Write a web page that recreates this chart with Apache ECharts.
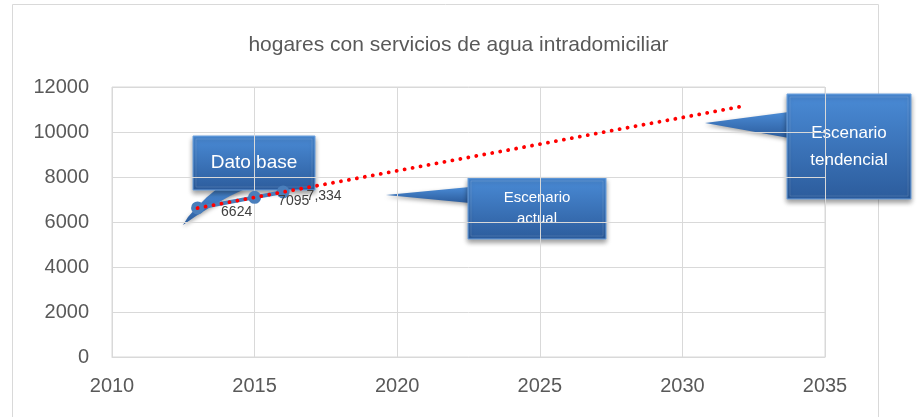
<!DOCTYPE html>
<html>
<head>
<meta charset="utf-8">
<script src="https://cdn.jsdelivr.net/npm/echarts@6/dist/echarts.min.js"></script>
<style>
  html, body { margin: 0; padding: 0; background: #fff; }
  #main { width: 917px; height: 417px; }
</style>
</head>
<body>
<div id="main"></div>
<script>
// datos
const years = [2013, 2015, 2016];
const hogares = [6624, 7095, 7334];
const etiquetas = ['6624', '7095', '7,334'];
// linea de tendencia (extremos)
const trendYears = [2013, 2032];
const trendValues = [6620, 11120];

const font = 'Liberation Sans';

// callout con cola
function callout(x, y, w, h, tail, lines, fontSize, lineGap) {
  const fill = new echarts.graphic.LinearGradient(0, 0, 0, 1, [
    { offset: 0, color: '#4a8bd6' },
    { offset: 1, color: '#2c5c9c' }
  ]);
  const children = [
    {
      type: 'polygon',
      shape: { points: tail },
      style: { fill: fill, shadowBlur: 4, shadowColor: 'rgba(0,0,0,0.35)', shadowOffsetY: 2 }
    },
    {
      type: 'rect',
      shape: { x: x, y: y, width: w, height: h },
      style: {
        fill: fill, stroke: '#6ea3e0', lineWidth: 1,
        shadowBlur: 5, shadowColor: 'rgba(0,0,0,0.4)', shadowOffsetY: 3
      }
    },
    {
      type: 'rect',
      shape: { x: x + 3, y: y + 3, width: w - 6, height: h - 6 },
      style: { fill: 'none', stroke: 'rgba(255,255,255,0.12)', lineWidth: 1 }
    }
  ];
  lines.forEach((t, i) => {
    children.push({
      type: 'text',
      style: {
        text: t, x: x + w / 2, y: y + h / 2 + (i - (lines.length - 1) / 2) * lineGap,
        align: 'center', verticalAlign: 'middle',
        fill: '#ffffff', font: fontSize + 'px "' + font + '"'
      }
    });
  });
  return { type: 'group', z: 100, children: children };
}

const chart = echarts.init(document.getElementById('main'));
chart.setOption({
  animation: false,
  title: {
    text: 'hogares con servicios de agua intradomiciliar',
    left: 'center',
    top: 30,
    textStyle: { fontFamily: font, fontSize: 21, fontWeight: 'normal', color: '#595959' }
  },
  grid: {
    left: 112, right: 92, top: 87, bottom: 60,
    show: true, borderColor: '#d9d9d9', borderWidth: 1
  },
  xAxis: {
    type: 'value',
    min: 2010, max: 2035, interval: 5,
    axisLine: { lineStyle: { color: '#d9d9d9' } },
    axisTick: { show: false },
    splitLine: { lineStyle: { color: '#d9d9d9' } },
    axisLabel: { margin: 19, fontFamily: font, fontSize: 20, color: '#595959', formatter: v => String(v) }
  },
  yAxis: {
    type: 'value',
    min: 0, max: 12000, interval: 2000,
    axisLine: { show: false },
    axisTick: { show: false },
    splitLine: { lineStyle: { color: '#d9d9d9' } },
    axisLabel: { margin: 23, fontFamily: font, fontSize: 20, color: '#595959', formatter: v => String(v) }
  },
  series: [
    {
      name: 'hogares',
      type: 'line',
      data: years.map((y, i) => [y, hogares[i]]),
      symbol: 'circle',
      symbolSize: 13,
      lineStyle: { color: '#4a7ebb', width: 4 },
      itemStyle: { color: '#4a7ebb' },
      label: {
        show: true, position: 'right', distance: 17,
        offset: [0, 4],
        fontFamily: font, fontSize: 14, color: '#404040',
        formatter: p => etiquetas[p.dataIndex]
      },
      z: 3
    },
    {
      name: 'tendencia',
      type: 'line',
      data: trendYears.map((y, i) => [y, trendValues[i]]),
      symbol: 'none',
      lineStyle: { color: '#ff0000', width: 3.8, type: [0.1, 8], cap: 'round' },
      z: 4
    }
  ],
  graphic: [
    {
      type: 'rect', z: -1, silent: true,
      shape: { x: 12.5, y: 4.5, width: 866, height: 420 },
      style: { fill: 'none', stroke: '#d9d9d9', lineWidth: 1 }
    },
    callout(193, 136, 122, 54,
      [[218, 188], [207, 197], [196, 208], [188, 217], [183, 225], [196, 216], [212, 206], [230, 196], [247, 188]],
      ['Dato base'], 19, 0),
    callout(468, 178, 138, 61, [[470, 187], [386, 195], [470, 203]], ['Escenario', 'actual'], 15, 21),
    callout(787, 94, 124, 105, [[789, 112], [705, 123], [789, 138]], ['Escenario', 'tendencial'], 17, 27)
  ]
});
</script>
</body>
</html>
